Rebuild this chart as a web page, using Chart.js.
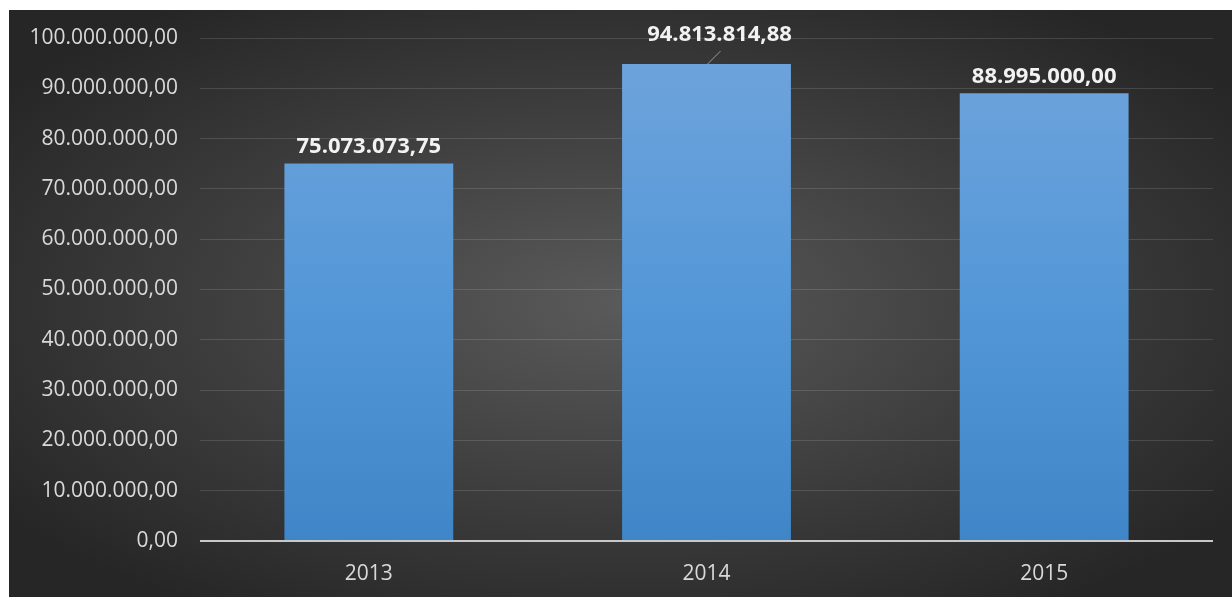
<!DOCTYPE html>
<html>
<head>
<meta charset="utf-8">
<script src="https://cdn.jsdelivr.net/npm/chart.js@4/dist/chart.umd.min.js"></script>
<style>
  html, body { margin: 0; padding: 0; background: #ffffff; }
  #wrap { position: absolute; left: 9px; top: 10px; width: 1223px; height: 587px; }
</style>
</head>
<body>
<div id="wrap"><canvas id="revenueChart"></canvas></div>
<script>
const years = ["2013", "2014", "2015"];
const revenue = [75073073.75, 94813814.88, 88995000.0];

function formatNumber(v) {
  let parts = Number(v).toFixed(2).split(".");
  parts[0] = parts[0].replace(/\B(?=(\d{3})+(?!\d))/g, ".");
  return parts[0] + "," + parts[1];
}

const fontFamily = "'Open Sans', 'Noto Sans', sans-serif";

const backgroundPlugin = {
  id: "darkBackground",
  beforeDraw(chart) {
    let c = chart.ctx;
    let w = chart.width, h = chart.height;
    c.save();
    c.translate(w * 0.5, h * 0.5);
    c.scale(1, h / w);
    let g = c.createRadialGradient(0, 0, 0, 0, 0, w * 0.62);
    g.addColorStop(0, "#5a5a5a");
    g.addColorStop(0.55, "#3d3d3d");
    g.addColorStop(1, "#262626");
    c.fillStyle = g;
    c.fillRect(-w, -w, w * 2, w * 2);
    c.restore();
  }
};

const valueLabelPlugin = {
  id: "valueLabels",
  afterDatasetsDraw(chart, args, opts) {
    let c = chart.ctx;
    let meta = chart.getDatasetMeta(0);
    c.save();
    c.font = "bold 22px " + fontFamily;
    c.fillStyle = "#f2f2f2";
    c.textAlign = "center";
    c.textBaseline = "bottom";
    meta.data.forEach(function (bar, i) {
      let off = opts.offsets[i] || { dx: 0, dy: 0 };
      let x = bar.x + off.dx;
      let y = bar.y - 6 - off.dy;
      if (off.dy > 0) {
        c.strokeStyle = "#9a9a9a";
        c.lineWidth = 1;
        c.beginPath();
        c.moveTo(bar.x + 1, bar.y);
        c.lineTo(bar.x + 14, bar.y - 13);
        c.stroke();
      }
      c.fillText(formatNumber(chart.data.datasets[0].data[i]), x, y);
    });
    c.restore();
  }
};

const ctx = document.getElementById("revenueChart").getContext("2d");
new Chart(ctx, {
  type: "bar",
  data: {
    labels: years,
    datasets: [
      {
        data: revenue,
        backgroundColor: function (context) {
          let area = context.chart.chartArea;
          if (!area) return "#5b9bd5";
          let g = context.chart.ctx.createLinearGradient(0, area.top, 0, area.bottom);
          g.addColorStop(0, "#70a4dc");
          g.addColorStop(0.5, "#5598d8");
          g.addColorStop(1, "#3f86c8");
          return g;
        },
        borderWidth: 0,
        categoryPercentage: 0.5,
        barPercentage: 1.0,
      },
    ],
  },
  options: {
    responsive: true,
    maintainAspectRatio: false,
    animation: false,
    layout: { padding: { top: 28, right: 19, left: 0, bottom: 0 } },
    plugins: {
      legend: { display: false },
      tooltip: { enabled: false },
      valueLabels: {
        offsets: [{ dx: 0, dy: 0 }, { dx: 13, dy: 12 }, { dx: 0, dy: 0 }],
      },
    },
    scales: {
      x: {
        grid: { display: false, drawTicks: false },
        border: { display: false },
        ticks: {
          color: "#d9d9d9",
          padding: 20,
          font: { family: fontFamily, size: 21 },
        },
        afterFit: function (scale) { scale.height = 56; },
      },
      y: {
        min: 0,
        max: 100000000,
        ticks: {
          stepSize: 10000000,
          color: "#d9d9d9",
          padding: 22,
          font: { family: fontFamily, size: 21 },
          callback: function (v) { return formatNumber(v); },
        },
        grid: {
          drawTicks: false,
          color: function (context) {
            return context.tick && context.tick.value === 0 ? "#c8c8c8" : "rgba(255,255,255,0.13)";
          },
          lineWidth: function (context) {
            return context.tick && context.tick.value === 0 ? 2 : 1;
          },
        },
        border: { display: false },
        afterFit: function (scale) {
          scale.width = 191;
          scale.paddingTop = 0;
          scale.paddingBottom = 0;
        },
      },
    },
  },
  plugins: [backgroundPlugin, valueLabelPlugin],
});
</script>
</body>
</html>
